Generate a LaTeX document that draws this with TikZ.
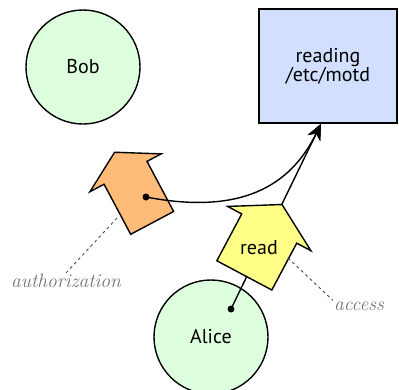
\documentclass[tikz,border=0pt]{standalone}
\usepackage{fontspec}
\setsansfont{PT Sans}
\usetikzlibrary{shapes.arrows,arrows.meta}
\definecolor{personfill}{HTML}{DDFFDD}
\definecolor{filefill}{HTML}{D2DFFF}
\definecolor{authfill}{HTML}{FFBB77}
\definecolor{readfill}{HTML}{FFFF88}

\begin{document}
\begin{tikzpicture}[x=1pt,y=-1pt,
    person/.style={circle,draw,line width=1.4pt,fill=personfill,minimum size=114pt,inner sep=0pt,
        font=\sffamily\fontsize{20}{20}\selectfont},
    object/.style={rectangle,draw,line width=1.4pt,fill=filefill,minimum width=138pt,minimum height=114pt,
        align=center,font=\sffamily\fontsize{20}{19}\selectfont},
    perm/.style={single arrow,draw,line width=1.4pt,shape border uses incircle,minimum height=80pt,minimum width=80pt,
        single arrow head extend=16pt,single arrow tip angle=120,inner sep=2.5pt,
        font=\sffamily\fontsize{20}{20}\selectfont},
    hint/.style={dash pattern=on 3pt off 3pt,line width=0.8pt,black!75},
    note/.style={font=\itshape\fontsize{19.5}{20}\selectfont,text=black!55,inner sep=1pt},
    flow/.style={line width=1.4pt,-{Stealth[length=16pt,width=14pt,inset=5pt]}},
    dot/.style={circle,fill=black,inner sep=0pt,minimum size=7pt}]
    \useasboundingbox (0,0) rectangle (399,389);

    \node[person] (bob) at (83,67) {Bob};
    \node[person] (alice) at (211,337) {Alice};
    \node[object] (motd) at (328,66) {reading\\/etc/motd};

    % authorization token
    \node[perm,fill=authfill,inner sep=16.5pt,shape border rotate=118,anchor=tail] (authz) at (152.5,223.5) {};
    \coordinate (authdot) at (146,197);
    \coordinate (alicedot) at (231,309);

    % both paths end at the file
    \draw[flow] (alicedot) -- ([xshift=-7pt]motd.south);
    \draw[flow] (authdot) .. controls (240,215) and (290,187) .. ([xshift=-7pt]motd.south);

    % access token
    \node[perm,fill=readfill,shape border rotate=62,anchor=tail] (access) at (244,276) {read};

    \node[dot] at (authdot) {};
    \node[dot] at (alicedot) {};

    \node[note] (authlabel) at (66,281) {authorization};
    \node[note] (accesslabel) at (359,306) {access};
    \coordinate (authhint) at (117,218);
    \coordinate (accesshint) at (288,258);
    \draw[hint] (authhint) -- (authlabel.north);
    \draw[hint] (accesshint) -- (accesslabel.north west);
\end{tikzpicture}
\end{document}
